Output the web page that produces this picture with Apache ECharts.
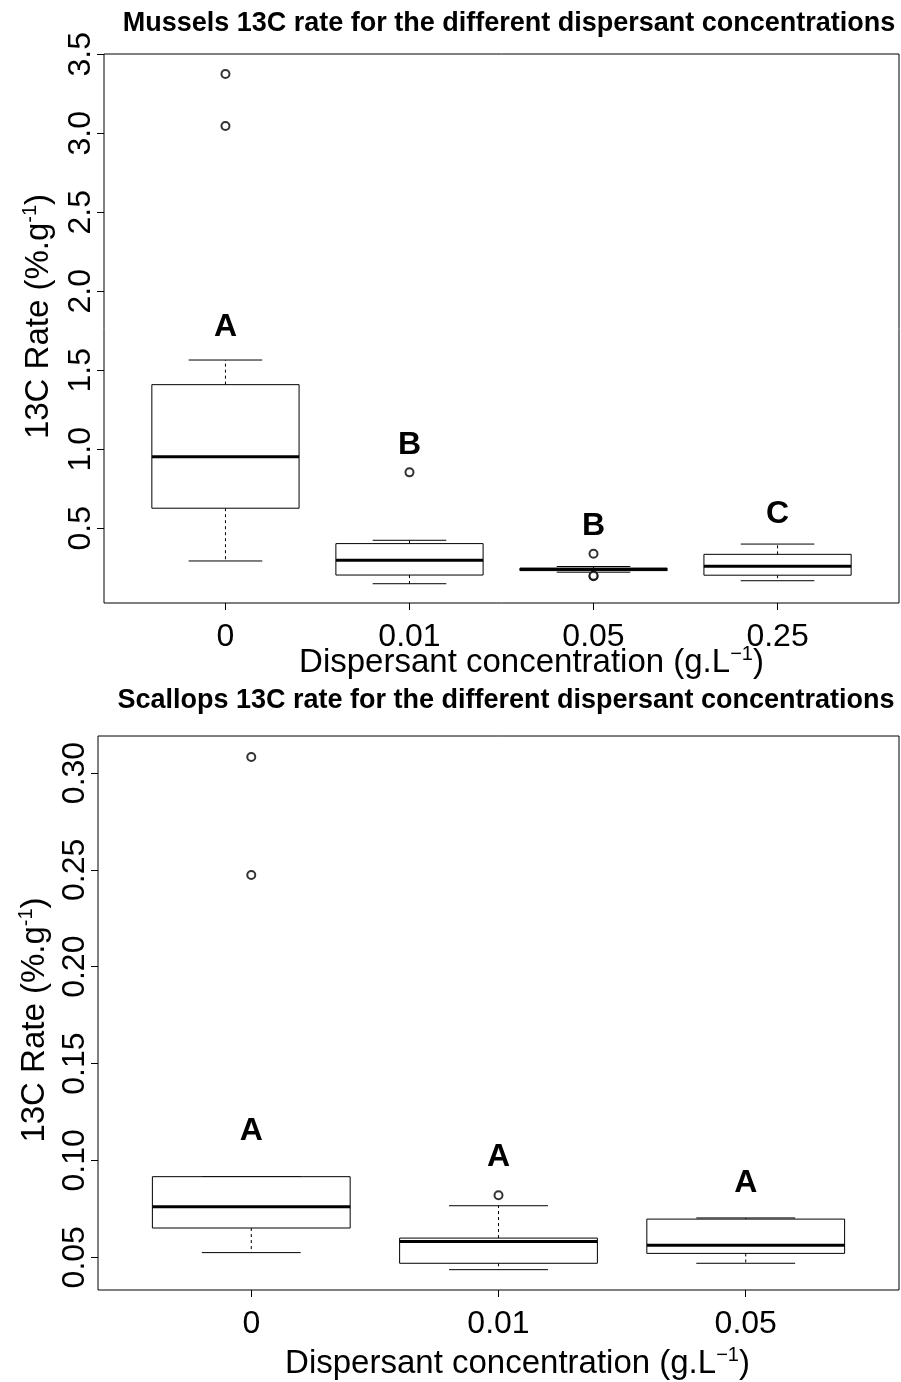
<!DOCTYPE html>
<html>
<head>
<meta charset="utf-8">
<script src="https://cdn.jsdelivr.net/npm/echarts@6/dist/echarts.min.js"></script>
<style>
  html, body { margin: 0; padding: 0; background: #fff; }
  #chart { width: 901px; height: 1382px; }
</style>
</head>
<body>
<div id="chart"></div>
<script>
// mussels panel
const musselCats = ['0', '0.01', '0.05', '0.25']
const musselLow = [0.293, 0.149, 0.222, 0.168]
const musselQ1 = [0.627, 0.204, 0.232, 0.203]
const musselMedian = [0.953, 0.297, 0.240, 0.259]
const musselQ3 = [1.409, 0.403, 0.247, 0.335]
const musselHigh = [1.565, 0.424, 0.258, 0.400]
const musselOutliers = [[1, 3.375], [1, 3.046], [2, 0.854], [3, 0.339], [3, 0.196], [3, 0.199]]
const musselLetters = ['A', 'B', 'B', 'C']
const musselLetterY = [1.774, 1.027, 0.515, 0.591]
const musselTicks = ['0.5', '1.0', '1.5', '2.0', '2.5', '3.0', '3.5']

// scallops panel
const scallopCats = ['0', '0.01', '0.05']
const scallopLow = [0.0524, 0.0436, 0.0469]
const scallopQ1 = [0.0651, 0.0469, 0.0520]
const scallopMedian = [0.0761, 0.0582, 0.0562]
const scallopQ3 = [0.0916, 0.0599, 0.0697]
const scallopHigh = [0.0916, 0.0766, 0.0703]
const scallopOutliers = [[1, 0.3083], [1, 0.2473], [2, 0.0820]]
const scallopLetters = ['A', 'A', 'A']
const scallopLetterY = [0.1152, 0.1018, 0.0883]
const scallopTicks = ['0.05', '0.10', '0.15', '0.20', '0.25', '0.30']

const font = 'Liberation Sans, Arial, Helvetica, sans-serif'

function boxRows(low, q1, med, q3, high) {
  return low.map((v, i) => [i + 1, v, q1[i], med[i], q3[i], high[i]])
}

// R style box: half width caps, dashed whiskers, thick median
function renderBox(params, api) {
  const x = api.value(0)
  const pLow = api.coord([x, api.value(1)])
  const pQ1 = api.coord([x, api.value(2)])
  const pMed = api.coord([x, api.value(3)])
  const pQ3 = api.coord([x, api.value(4)])
  const pHigh = api.coord([x, api.value(5)])
  const left = api.coord([x - 0.4, 0])[0]
  const right = api.coord([x + 0.4, 0])[0]
  const capL = api.coord([x - 0.2, 0])[0]
  const capR = api.coord([x + 0.2, 0])[0]
  const cx = pMed[0]
  const thin = {stroke: '#000', lineWidth: 1}
  const dash = {stroke: '#000', lineWidth: 1, lineDash: [3, 3]}
  return {
    type: 'group',
    children: [
      {type: 'line', shape: {x1: cx, y1: pQ3[1], x2: cx, y2: pHigh[1]}, style: dash},
      {type: 'line', shape: {x1: cx, y1: pQ1[1], x2: cx, y2: pLow[1]}, style: dash},
      {type: 'line', shape: {x1: capL, y1: pHigh[1], x2: capR, y2: pHigh[1]}, style: thin},
      {type: 'line', shape: {x1: capL, y1: pLow[1], x2: capR, y2: pLow[1]}, style: thin},
      {type: 'rect', shape: {x: left, y: pQ3[1], width: right - left, height: pQ1[1] - pQ3[1]},
        style: {fill: '#fff', stroke: '#000', lineWidth: 1}},
      {type: 'line', shape: {x1: left, y1: pMed[1], x2: right, y2: pMed[1]}, style: {stroke: '#000', lineWidth: 3}}
    ]
  }
}

function renderLetter(params, api) {
  const p = api.coord([api.value(0), api.value(1)])
  return {
    type: 'text',
    x: p[0], y: p[1],
    style: {
      text: api.value(2), fill: '#000', font: 'bold 32px ' + font,
      align: 'center', verticalAlign: 'middle'
    }
  }
}

function yAxisFor(idx, min, max, ticks, nameGap, namePad) {
  const vals = ticks.map(Number)
  return {
    type: 'value', gridIndex: idx, min: min, max: max,
    name: '{a|13C Rate (%.g}{s|-1}{a|)}',
    nameLocation: 'middle', nameRotate: 90, nameGap: nameGap,
    nameMoveOverlap: false,
    nameTextStyle: {
      color: '#000', fontFamily: font, padding: namePad,
      rich: {
        a: {fontSize: 33, fontFamily: font, color: '#000', lineHeight: 38},
        s: {fontSize: 20, fontFamily: font, color: '#000', lineHeight: 20, verticalAlign: 'top'}
      }
    },
    axisLine: {show: false},
    splitLine: {show: false},
    axisTick: {show: true, length: 7, customValues: vals, lineStyle: {color: '#000'}},
    axisLabel: {
      customValues: vals, rotate: 90, margin: 7, color: '#000', fontSize: 32, fontFamily: font,
      formatter: v => ticks[vals.indexOf(v)] || ''
    }
  }
}

function xAxisFor(idx, min, max, cats, nameGap, shift) {
  const vals = cats.map((c, i) => i + 1)
  return {
    type: 'value', gridIndex: idx, min: min, max: max,
    name: '{a|Dispersant concentration (g.L}{s|\u22121}{a|)}',
    nameLocation: 'middle', nameGap: nameGap,
    nameMoveOverlap: false,
    nameTextStyle: {
      color: '#000', fontFamily: font, padding: [0, 0, 0, shift],
      rich: {
        a: {fontSize: 33, fontFamily: font, color: '#000', lineHeight: 38},
        s: {fontSize: 20, fontFamily: font, color: '#000', lineHeight: 20, verticalAlign: 'top'}
      }
    },
    axisLine: {show: false},
    splitLine: {show: false},
    axisTick: {show: true, length: 7, customValues: vals, lineStyle: {color: '#000'}},
    axisLabel: {
      customValues: vals, margin: 18, color: '#000', fontSize: 32, fontFamily: font,
      formatter: v => cats[v - 1] || ''
    }
  }
}

let myChart = echarts.init(document.getElementById('chart'), null, {renderer: 'canvas'})

myChart.setOption({
  backgroundColor: '#fff',
  animation: false,
  title: [
    {
      text: 'Mussels 13C rate for the different dispersant concentrations',
      left: 504, top: 5, textAlign: 'center',
      textStyle: {fontSize: 27, fontWeight: 'bold', fontFamily: font, color: '#000'}
    },
    {
      text: 'Scallops 13C rate for the different dispersant concentrations',
      left: 501, top: 682, textAlign: 'center',
      textStyle: {fontSize: 27, fontWeight: 'bold', fontFamily: font, color: '#000'}
    }
  ],
  grid: [
    {left: 104, top: 54, right: 2, bottom: 779, show: true, borderColor: '#000', borderWidth: 1},
    {left: 98, top: 736, right: 2, bottom: 92, show: true, borderColor: '#000', borderWidth: 1}
  ],
  xAxis: [
    xAxisFor(0, 0.34, 4.66, musselCats, 41, 60),
    xAxisFor(1, 0.38, 3.62, scallopCats, 55, 38)
  ],
  yAxis: [
    yAxisFor(0, 0.027, 3.502, musselTicks, 46, [0, 0, 0, 24]),
    yAxisFor(1, 0.0331, 0.3191, scallopTicks, 44, [0, 14, 0, 0])
  ],
  series: [
    {
      type: 'custom', xAxisIndex: 0, yAxisIndex: 0,
      renderItem: renderBox,
      data: boxRows(musselLow, musselQ1, musselMedian, musselQ3, musselHigh)
    },
    {
      type: 'scatter', xAxisIndex: 0, yAxisIndex: 0,
      symbol: 'emptyCircle', symbolSize: 8,
      itemStyle: {color: '#000', borderWidth: 0.8},
      data: musselOutliers
    },
    {
      type: 'custom', xAxisIndex: 0, yAxisIndex: 0,
      renderItem: renderLetter,
      data: musselLetters.map((l, i) => [i + 1, musselLetterY[i], l])
    },
    {
      type: 'custom', xAxisIndex: 1, yAxisIndex: 1,
      renderItem: renderBox,
      data: boxRows(scallopLow, scallopQ1, scallopMedian, scallopQ3, scallopHigh)
    },
    {
      type: 'scatter', xAxisIndex: 1, yAxisIndex: 1,
      symbol: 'emptyCircle', symbolSize: 8,
      itemStyle: {color: '#000', borderWidth: 0.8},
      data: scallopOutliers
    },
    {
      type: 'custom', xAxisIndex: 1, yAxisIndex: 1,
      renderItem: renderLetter,
      data: scallopLetters.map((l, i) => [i + 1, scallopLetterY[i], l])
    }
  ]
})
</script>
</body>
</html>
